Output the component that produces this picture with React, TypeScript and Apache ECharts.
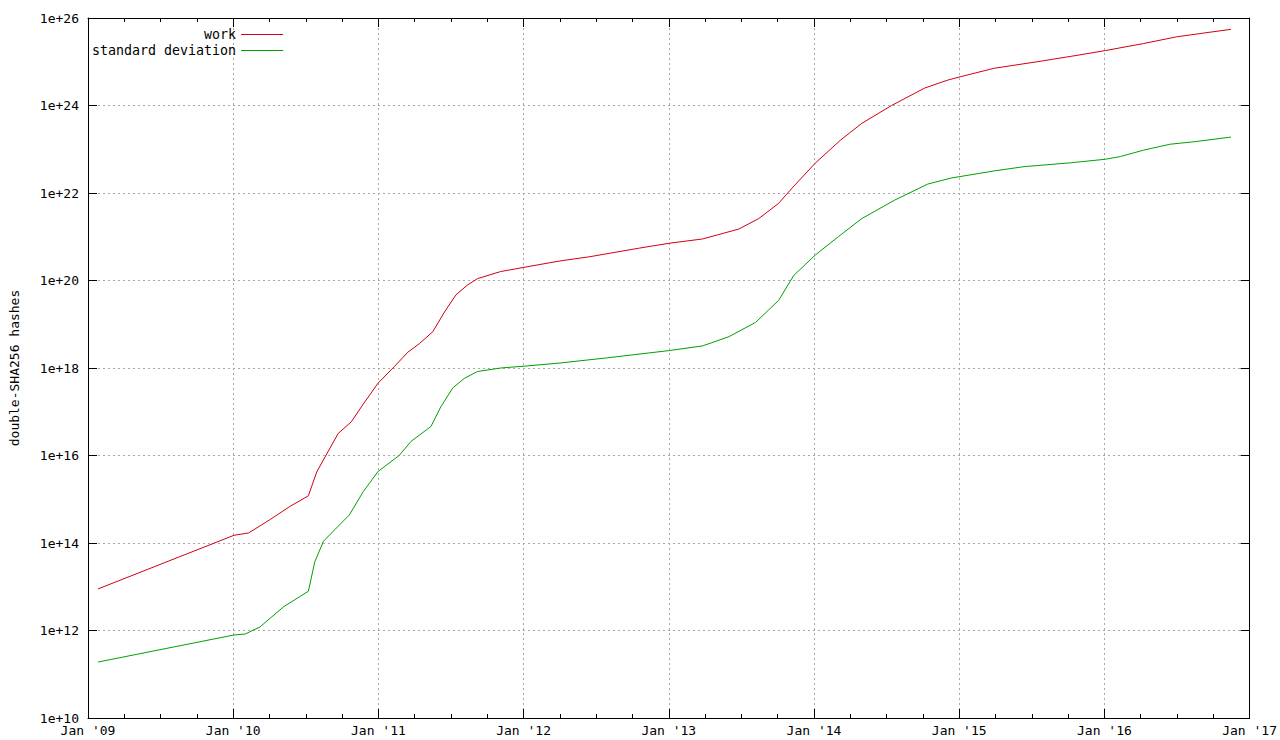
import React, { useEffect, useRef } from "react";
import * as echarts from "echarts";

const workDates = [
  "2009-01-26", "2010-01-03", "2010-02-09", "2010-04-03", "2010-05-23", "2010-07-09",
  "2010-07-30", "2010-08-20", "2010-09-22", "2010-10-25", "2010-11-24", "2010-12-31",
  "2011-02-11", "2011-03-16", "2011-04-14", "2011-05-18", "2011-06-16", "2011-07-15",
  "2011-08-13", "2011-09-07", "2011-11-04", "2012-01-02", "2012-04-02", "2012-06-16",
  "2012-10-19", "2013-01-02", "2013-03-27", "2013-06-26", "2013-08-15", "2013-10-04",
  "2013-11-07", "2014-01-04", "2014-03-08", "2014-05-01", "2014-07-15", "2014-10-06",
  "2014-12-03", "2015-01-06", "2015-03-30", "2015-07-16", "2015-10-24", "2016-01-03",
  "2016-04-08", "2016-06-30", "2016-09-05", "2016-11-15",
];
const workValues = [
  8.9e12, 1.5e14, 1.7e14, 3.4e14, 6.8e14, 1.2e15,
  4.2e15, 9.3e15, 3.2e16, 5.9e16, 1.5e17, 4.5e17,
  1.1e18, 2.3e18, 3.6e18, 6.8e18, 1.9e19, 4.7e19,
  7.9e19, 1.1e20, 1.6e20, 2.0e20, 2.8e20, 3.5e20,
  5.5e20, 7.1e20, 8.9e20, 1.5e21, 2.6e21, 5.8e21,
  1.3e22, 4.8e22, 1.6e23, 3.9e23, 1.0e24, 2.5e24,
  3.8e24, 4.6e24, 7.1e24, 1.0e25, 1.4e25, 1.8e25,
  2.6e25, 3.7e25, 4.5e25, 5.5e25,
];

const sdDates = [
  "2009-01-26", "2010-01-03", "2010-01-31", "2010-03-09", "2010-05-08", "2010-07-09",
  "2010-07-25", "2010-08-16", "2010-10-20", "2010-11-24", "2010-12-31", "2011-02-22",
  "2011-03-24", "2011-05-13", "2011-06-07", "2011-07-07", "2011-08-05", "2011-09-07",
  "2011-11-04", "2012-01-02", "2012-04-02", "2012-07-28", "2013-01-02", "2013-03-27",
  "2013-06-01", "2013-08-07", "2013-10-04", "2013-11-11", "2014-01-04", "2014-03-03",
  "2014-05-01", "2014-07-23", "2014-10-14", "2014-12-12", "2015-03-30", "2015-06-13",
  "2015-10-08", "2016-01-03", "2016-02-10", "2016-04-08", "2016-06-14", "2016-08-19",
  "2016-11-15",
];
const sdValues = [
  1.9e11, 7.9e11, 8.3e11, 1.2e12, 3.5e12, 7.9e12,
  3.7e13, 1.1e14, 4.4e14, 1.5e15, 4.3e15, 1.0e16,
  2.1e16, 4.6e16, 1.3e17, 3.5e17, 5.8e17, 8.3e17,
  1.0e18, 1.1e18, 1.3e18, 1.7e18, 2.5e18, 3.2e18,
  5.2e18, 1.1e19, 3.5e19, 1.3e20, 3.8e20, 1.0e21,
  2.6e21, 6.9e21, 1.6e22, 2.2e22, 3.2e22, 4.0e22,
  4.9e22, 5.9e22, 6.8e22, 9.5e22, 1.3e23, 1.5e23,
  1.9e23,
];

const seriesNames = ["work", "standard deviation"];
const yearMin = 2009;
const yearMax = 2017;
const yMin = 1e10;
const yMax = 1e26;

function toYear(d: string): number {
  const [y, m, day] = d.split("-").map(Number);
  const t = Date.UTC(y, m - 1, day);
  const s = Date.UTC(y, 0, 1);
  const e = Date.UTC(y + 1, 0, 1);
  return y + (t - s) / (e - s);
}

const FONT = "DejaVu Sans Mono";
const RED = "#d00010";
const GREEN = "#00a000";

export default function App() {
  const ref = useRef<HTMLDivElement>(null);
  useEffect(() => {
    if (!ref.current) return;
    const chart = echarts.init(ref.current, undefined, { renderer: "svg" });
    const workData = workDates.map((d, i) => [toYear(d), workValues[i]]);
    const sdData = sdDates.map((d, i) => [toYear(d), sdValues[i]]);
    const axisLine = { show: true, lineStyle: { color: "#000", width: 1 } };
    const splitLine = { show: true, lineStyle: { color: "#a8a8a8", type: [2, 3] as any, width: 1 } };
    chart.setOption({
      animation: false,
      backgroundColor: "#fff",
      textStyle: { fontFamily: FONT },
      grid: { left: 85, right: 25, top: 18, bottom: 22, containLabel: false },
      legend: {
        orient: "vertical",
        align: "right",
        left: 92,
        top: 27,
        padding: 0,
        itemWidth: 42,
        itemHeight: 1,
        itemGap: 1,
        icon: "rect",
        data: seriesNames,
        textStyle: { fontFamily: FONT, fontSize: 13.3, color: "#000", lineHeight: 15 },
      },
      xAxis: [
        {
          type: "value",
          min: yearMin,
          max: yearMax,
          interval: 1,
          position: "bottom",
          axisLine,
          axisTick: { show: true, inside: true, length: 9, lineStyle: { color: "#000" } },
          minorTick: { show: true, splitNumber: 4, length: 4, lineStyle: { color: "#000" } },
          splitLine,
          axisLabel: {
            margin: 6,
            fontFamily: FONT,
            fontSize: 13,
            color: "#000",
            formatter: (v: number) => "Jan '" + String(Math.round(v)).slice(2),
          },
        },
        {
          type: "value",
          min: yearMin,
          max: yearMax,
          interval: 1,
          position: "top",
          axisLine,
          axisTick: { show: true, inside: true, length: 9, lineStyle: { color: "#000" } },
          minorTick: { show: true, splitNumber: 4, length: 4, lineStyle: { color: "#000" } },
          splitLine: { show: false },
          axisLabel: { show: false },
        },
      ],
      yAxis: [
        {
          type: "log",
          logBase: 100,
          min: yMin,
          max: yMax,
          position: "left",
          name: "double-SHA256 hashes",
          nameLocation: "middle",
          nameRotate: 90,
          nameGap: 67,
          nameTextStyle: { fontFamily: FONT, fontSize: 13, color: "#000" },
          axisLine,
          axisTick: { show: true, inside: true, length: 9, lineStyle: { color: "#000" } },
          splitLine,
          axisLabel: {
            margin: 9,
            fontFamily: FONT,
            fontSize: 13,
            color: "#000",
            formatter: (v: number) => "1e+" + Math.round(Math.log10(v)),
          },
        },
        {
          type: "log",
          logBase: 100,
          min: yMin,
          max: yMax,
          position: "right",
          axisLine,
          axisTick: { show: true, inside: true, length: 9, lineStyle: { color: "#000" } },
          splitLine: { show: false },
          axisLabel: { show: false },
        },
      ],
      series: [
        {
          name: seriesNames[0],
          type: "line",
          data: workData,
          symbol: "none",
          lineStyle: { color: RED, width: 1 },
          itemStyle: { color: RED },
        },
        {
          name: seriesNames[1],
          type: "line",
          data: sdData,
          symbol: "none",
          lineStyle: { color: GREEN, width: 1 },
          itemStyle: { color: GREEN },
        },
      ],
    });
    return () => chart.dispose();
  }, []);
  return (
    <div
      ref={ref}
      style={{ position: "absolute", left: 0, top: 0, width: 1280, height: 740, background: "#fff" }}
    />
  );
}
